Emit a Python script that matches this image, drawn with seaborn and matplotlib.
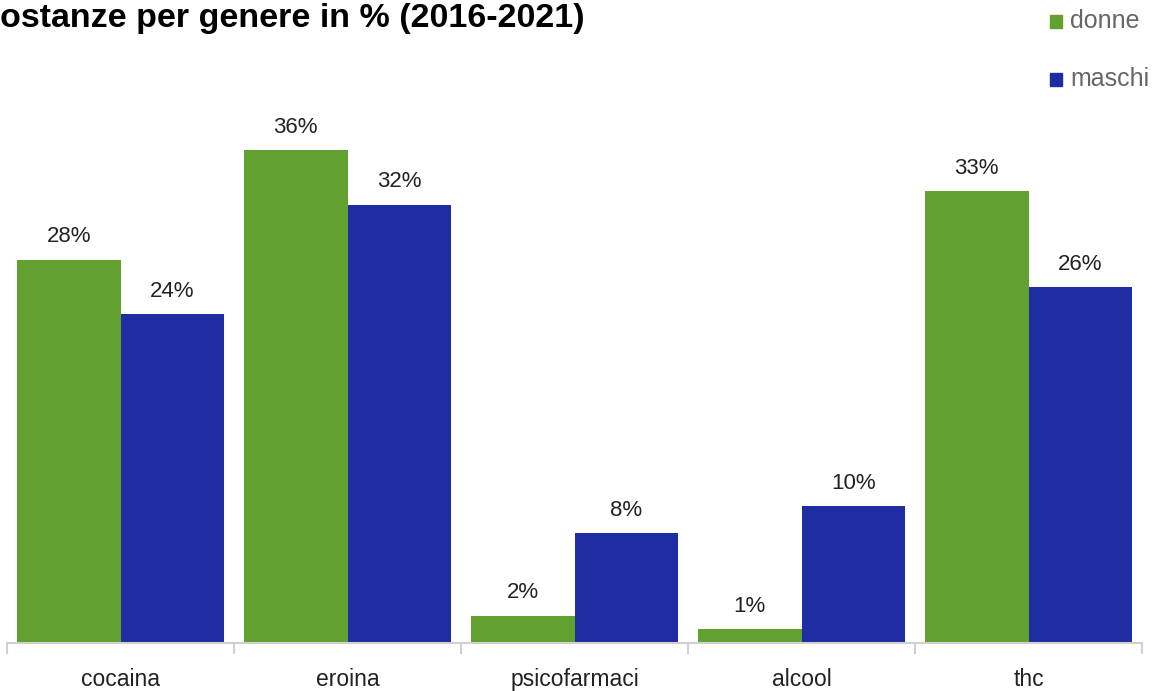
import matplotlib
matplotlib.use("Agg")
import matplotlib.pyplot as plt
import seaborn as sns
import pandas as pd
import numpy as np

categories = ["cocaina", "eroina", "psicofarmaci", "alcool", "thc"]
donne = [28, 36, 2, 1, 33]
maschi = [24, 32, 8, 10, 26]
series_names = ["donne", "maschi"]
title = "ostanze per genere in % (2016-2021)"

colors = {"donne": "#62A130", "maschi": "#1E2EA2"}

df = pd.DataFrame({
    "sostanza": categories * 2,
    "genere": [series_names[0]] * len(categories) + [series_names[1]] * len(categories),
    "valore": donne + maschi,
})

sns.set_theme(style="white")
plt.rcParams["font.family"] = ["Liberation Sans", "DejaVu Sans"]

fig = plt.figure(figsize=(11.58, 6.91), dpi=100)
ax = fig.add_axes([7 / 1158, 48 / 691, (1142 - 7) / 1158, (643 - 95.4) / 691])

sns.barplot(data=df, x="sostanza", y="valore", hue="genere", order=categories,
            hue_order=series_names, palette=colors, width=0.91, gap=0,
            saturation=1, ax=ax, legend=False, errorbar=None, linewidth=0)

for cont in ax.containers:
    ax.bar_label(cont, labels=[f"{v:.0f}%" for v in cont.datavalues],
                 padding=9, fontsize=16, color="#222222")

ax.set_ylim(0, 40)
ax.set_xlim(-0.5, len(categories) - 0.5)
ax.set_xlabel("")
ax.set_ylabel("")
ax.set_yticks([])
for s in ["top", "right", "left"]:
    ax.spines[s].set_visible(False)
ax.spines["bottom"].set_color("#d0d0d0")
ax.spines["bottom"].set_linewidth(1.5)

ax.set_xticks(np.arange(len(categories)))
ax.set_xticklabels(categories, fontsize=16.5, color="#222222")
ax.tick_params(axis="x", which="major", length=0, pad=18)
ax.set_xticks(np.arange(-0.5, len(categories)), minor=True)
ax.tick_params(axis="x", which="minor", length=8, width=1.5, color="#d0d0d0",
               bottom=True)

fig.text(0.0, 0.995, title, fontsize=24.5, fontweight="bold", color="black",
         ha="left", va="top")

# legend
for i, name in enumerate(series_names):
    y = 1 - (21 + 58 * i) / 691
    fig.patches.append(plt.Rectangle((1050 / 1158, y - 7 / 691), 12 / 1158, 13 / 691,
                                     transform=fig.transFigure, color=colors[name],
                                     figure=fig))
    fig.text(1070 / 1158, y, name, fontsize=18, color="#666666", ha="left", va="center")

fig.savefig("out.png", dpi=100)
